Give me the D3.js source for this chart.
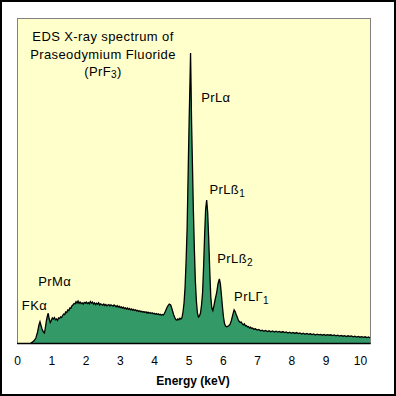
<!DOCTYPE html>
<html>
<head>
<meta charset="utf-8">
<script src="https://cdn.jsdelivr.net/npm/d3@7"></script>
<style>
  body { margin: 0; background: #fff; }
  svg { display: block; font-family: "Liberation Sans", Arial, sans-serif; }
  .axis text { font-size: 12px; fill: #000; }
  .lbl { font-size: 13px; fill: #000; letter-spacing: 0.4px; }
</style>
</head>
<body>
<svg width="396" height="396"></svg>
<script>
// spectrum (energy in keV, counts in arbitrary units)
var energy = [
  0.40, 0.45, 0.50, 0.55, 0.60, 0.64, 0.67, 0.70, 0.73, 0.77, 0.80, 0.83, 0.86, 0.89, 0.91, 0.94, 0.97,
  1.00, 1.03, 1.06, 1.09, 1.12, 1.15, 1.18, 1.21, 1.24, 1.27, 1.30, 1.33, 1.36, 1.39, 1.42, 1.45, 1.48,
  1.51, 1.54, 1.57, 1.60, 1.63, 1.66, 1.69, 1.72, 1.75, 1.78, 1.81, 1.84, 1.87, 1.90, 1.93, 1.96, 1.99,
  2.02, 2.05, 2.08, 2.11, 2.14, 2.17, 2.20, 2.23, 2.26, 2.29, 2.32, 2.35, 2.38, 2.41, 2.44, 2.47, 2.50,
  2.53, 2.56, 2.59, 2.62, 2.65, 2.68, 2.71, 2.74, 2.77, 2.80, 2.83, 2.86, 2.89, 2.92, 2.95, 2.98, 3.01,
  3.04, 3.07, 3.10, 3.13, 3.16, 3.19, 3.22, 3.25, 3.28, 3.31, 3.34, 3.37, 3.40, 3.43, 3.46, 3.49, 3.52,
  3.55, 3.58, 3.61, 3.64, 3.67, 3.70, 3.73, 3.76, 3.79, 3.82, 3.85, 3.88, 3.91, 3.94, 3.97, 4.00, 4.03,
  4.06, 4.09, 4.12, 4.15, 4.18, 4.21, 4.24, 4.27, 4.30, 4.33, 4.36, 4.40, 4.44, 4.48, 4.51, 4.54, 4.57,
  4.60, 4.63, 4.66, 4.69, 4.72, 4.75, 4.78, 4.81, 4.84, 4.87, 4.90, 4.93, 4.96, 4.99, 5.02, 5.04, 5.06,
  5.075, 5.09, 5.12, 5.14, 5.17, 5.20, 5.23, 5.26, 5.29, 5.32, 5.35, 5.38, 5.41, 5.44, 5.47, 5.50, 5.53,
  5.56, 5.59, 5.62, 5.65, 5.68, 5.71, 5.74, 5.78, 5.82, 5.86, 5.90, 5.93, 5.96, 5.99, 6.02, 6.05, 6.08,
  6.11, 6.14, 6.17, 6.21, 6.25, 6.29, 6.33, 6.36, 6.39, 6.42, 6.45, 6.48, 6.51, 6.54, 6.57, 6.60, 6.63,
  6.66, 6.69, 6.72, 6.75, 6.78, 6.81, 6.84, 6.87, 6.90, 6.95, 7.00, 7.05, 7.10, 7.15, 7.20, 7.25, 7.30,
  7.35, 7.40, 7.45, 7.50, 7.55, 7.60, 7.65, 7.70, 7.75, 7.80, 7.85, 7.90, 7.95, 8.00, 8.05, 8.10, 8.15,
  8.20, 8.25, 8.30, 8.35, 8.40, 8.45, 8.50, 8.55, 8.60, 8.65, 8.70, 8.75, 8.80, 8.85, 8.90, 8.95, 9.00,
  9.05, 9.10, 9.15, 9.20, 9.25, 9.30, 9.35, 9.40, 9.45, 9.50, 9.55, 9.60, 9.65, 9.70, 9.75, 9.80, 9.85,
  9.90, 9.95, 10.00, 10.05, 10.10, 10.15, 10.20, 10.25, 10.29
];
var counts = [
  0, 8, 25, 50, 110, 180, 213, 175, 140, 110, 100, 160, 230, 275, 297, 240, 205,
  225, 250, 240, 255, 232, 240, 225, 250, 245, 262, 255, 275, 290, 285, 310, 305, 330,
  325, 350, 348, 370, 380, 395, 390, 412, 400, 420, 398, 410, 395, 402, 388, 405, 398,
  410, 395, 403, 392, 415, 400, 410, 390, 402, 385, 398, 388, 402, 380, 392, 385, 378,
  390, 375, 386, 372, 380, 385, 370, 382, 375, 368, 380, 372, 362, 375, 360, 368, 355,
  362, 350, 358, 345, 352, 340, 350, 336, 345, 332, 340, 328, 336, 325, 332, 320, 326,
  315, 322, 312, 318, 308, 315, 305, 312, 300, 308, 298, 305, 295, 302, 292, 298, 288,
  295, 285, 292, 282, 288, 278, 285, 280, 298, 320, 345, 372, 388, 380, 350, 315, 280,
  255, 235, 228, 240, 232, 248, 240, 255, 310, 400, 560, 820, 1150, 1700, 2250, 2560, 2900,
  2560, 2200, 1700, 1360, 950, 620, 420, 300, 260, 270, 300, 380, 500, 760, 1080, 1340, 1430,
  1300, 1030, 720, 460, 350, 325, 370, 440, 500, 590, 640, 590, 480, 363, 260, 195, 170,
  163, 165, 172, 185, 225, 282, 332, 315, 285, 260, 232, 215, 205, 210, 190, 182, 192,
  170, 175, 160, 165, 150, 158, 145, 150, 138, 142, 130, 135, 122, 128, 118, 125, 115,
  122, 112, 120, 110, 118, 110, 116, 106, 114, 104, 110, 100, 108, 98, 106, 96, 104,
  94, 100, 90, 98, 88, 95, 86, 92, 84, 90, 80, 88, 82, 86, 78, 85, 76,
  84, 78, 82, 74, 80, 72, 78, 70, 76, 68, 74, 64, 72, 66, 70, 62, 68,
  60, 66, 58, 64, 56, 62, 55, 60, 50
];
var xTicks = [0, 1, 2, 3, 4, 5, 6, 7, 8, 9, 10];
var titleLines = ["EDS X-ray spectrum of", "Praseodymium Fluoride"];
// peak labels: [text, subscript, energy, counts]
var peakLabels = [
  ["PrL\u03b1", "", 5.37, 2415],
  ["PrL\u00df", "1", 5.61, 1490],
  ["PrL\u00df", "2", 5.84, 803],
  ["PrL\u0393", "1", 6.33, 423],
  ["PrM\u03b1", "", 0.62, 573],
  ["FK\u03b1", "", 0.14, 330]
];

var svg = d3.select("svg"),
    margin = {top: 18, right: 26, bottom: 53, left: 17},
    width = +svg.attr("width") - margin.left - margin.right,
    height = +svg.attr("height") - margin.top - margin.bottom;

var data = energy.map(function(e, i) { return {e: e, c: counts[i]}; });

// 0..10 keV takes 343 px, plot runs a bit past 10
var x = d3.scaleLinear().domain([0, 10]).range([0, 343]),
    y = d3.scaleLinear().domain([0, 3250]).range([height, 0]);

// outer frame
svg.append("rect")
    .attr("x", 1).attr("y", 1).attr("width", 394).attr("height", 394)
    .attr("fill", "#fff").attr("stroke", "#000").attr("stroke-width", 2);

var g = svg.append("g")
    .attr("transform", "translate(" + margin.left + "," + margin.top + ")");

g.append("rect")
    .attr("x", 0.5).attr("y", 0.5).attr("width", width).attr("height", height)
    .attr("fill", "#ffffcc").attr("stroke", "#808080").attr("stroke-width", 1);

var area = d3.area()
    .x(function(d) { return x(d.e); })
    .y0(height)
    .y1(function(d) { return y(d.c); });

var line = d3.line()
    .x(function(d) { return x(d.e); })
    .y(function(d) { return y(d.c); });

g.append("path").datum(data)
    .attr("fill", "#339966")
    .attr("d", area);

g.append("path").datum(data)
    .attr("fill", "none")
    .attr("stroke", "#000")
    .attr("stroke-width", 1.3)
    .attr("stroke-linejoin", "miter")
    .attr("d", line);

// x axis line
g.append("line")
    .attr("x1", 0).attr("x2", width + 0.5)
    .attr("y1", height + 0.5).attr("y2", height + 0.5)
    .attr("stroke", "#000").attr("stroke-width", 1.5);

var xAxis = g.append("g")
    .attr("class", "axis")
    .attr("transform", "translate(0," + height + ")")
    .call(d3.axisBottom(x).tickValues(xTicks).tickSize(0).tickPadding(13).tickFormat(d3.format("d")));
xAxis.select(".domain").remove();
xAxis.selectAll("text").attr("font-family", "Liberation Sans, Arial, sans-serif").attr("font-size", 12);

svg.append("text")
    .attr("x", 193).attr("y", 385)
    .attr("text-anchor", "middle")
    .attr("font-size", 12).attr("font-weight", "bold")
    .text("Energy (keV)");

// title
titleLines.forEach(function(t, i) {
  svg.append("text").attr("class", "lbl")
      .attr("x", 103).attr("y", 41 + i * 17.5)
      .attr("text-anchor", "middle")
      .text(t);
});
var t3 = svg.append("text").attr("class", "lbl")
    .attr("x", 103).attr("y", 76)
    .attr("text-anchor", "middle");
t3.append("tspan").text("(PrF");
t3.append("tspan").attr("font-size", 10).attr("dy", 2).text("3");
t3.append("tspan").attr("dy", -2).text(")");

// peak labels
peakLabels.forEach(function(p) {
  var t = g.append("text").attr("class", "lbl")
      .attr("x", x(p[2])).attr("y", y(p[3]));
  t.append("tspan").text(p[0]);
  if (p[1]) t.append("tspan").attr("font-size", 10).attr("dy", 3).text(p[1]);
});
</script>
</body>
</html>
